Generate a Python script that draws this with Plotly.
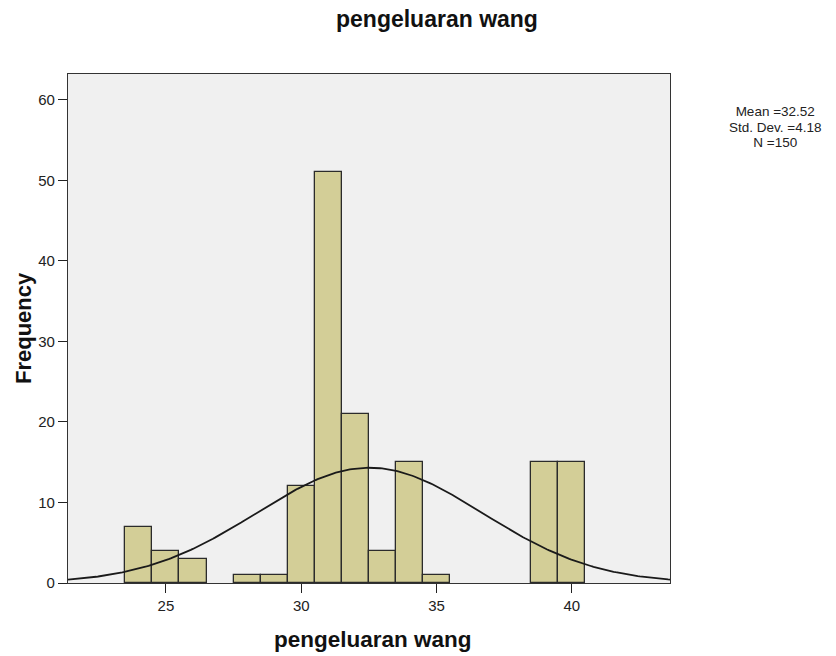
import numpy as np
import plotly.graph_objects as go

# Histogram data (bin centres, bin width 1)
bin_centers = [24, 25, 26, 28, 29, 30, 31, 32, 33, 34, 35, 39, 40]
counts = [7, 4, 3, 1, 1, 12, 51, 21, 4, 15, 1, 15, 15]
mean_val = 32.52
std_val = 4.18
n_val = 150
bin_width = 1.0
x_ticks = [25, 30, 35, 40]
y_ticks = [0, 10, 20, 30, 40, 50, 60]
stats_lines = ["Mean =32.52", "Std. Dev. =4.18", "N =150"]

FONT = "Arial, Liberation Sans, sans-serif"
X_RANGE = [21.38, 43.63]
Y_RANGE = [0, 63.22]

# plot area in page pixels
PL, PT, PR, PB = 68, 74, 670, 583
PW, PH = PR - PL, PB - PT

def px(x):
    return (x - PL) / PW

def py(y):
    return (PB - y) / PH

# fitted normal curve
xc = np.linspace(X_RANGE[0], X_RANGE[1], 300)
yc = n_val * bin_width / (std_val * np.sqrt(2 * np.pi)) * np.exp(-0.5 * ((xc - mean_val) / std_val) ** 2)

fig = go.Figure()
fig.add_trace(go.Bar(
    x=bin_centers, y=counts, width=bin_width,
    marker=dict(color="#D3CE97", line=dict(color="#2b2b2b", width=1.3)),
    hoverinfo="x+y",
))
fig.add_trace(go.Scatter(
    x=xc, y=yc, mode="lines",
    line=dict(color="#1a1a1a", width=1.8), hoverinfo="skip",
))

stats_text = "<br>".join(
    '<span style="font-size:13.5px">%s</span>' % s for s in stats_lines
)

annotations = [
    dict(text="<b>pengeluaran wang</b>", x=px(437), y=py(19),
         font=dict(family=FONT, size=23, color="#111")),
    dict(text="<b>pengeluaran wang</b>", x=px(373), y=py(639),
         font=dict(family=FONT, size=22.5, color="#111")),
    dict(text="<b>Frequency</b>", x=px(23), y=py(328), textangle=-90,
         font=dict(family=FONT, size=22, color="#111")),
    dict(text=stats_text, x=px(775), y=py(127), align="center",
         font=dict(family=FONT, size=12, color="#222")),
]
for a in annotations:
    a.update(xref="paper", yref="paper", showarrow=False,
             xanchor="center", yanchor="middle")

fig.update_layout(
    width=836, height=656,
    margin=dict(l=PL, r=836 - PR, t=PT, b=656 - PB),
    paper_bgcolor="white", plot_bgcolor="#F0F0F0",
    showlegend=False, bargap=0,
    font=dict(family=FONT, size=15, color="#222"),
    annotations=annotations,
)
fig.update_xaxes(
    range=X_RANGE, tickvals=x_ticks, ticks="outside", ticklen=9,
    tickcolor="#222", showgrid=False, zeroline=False,
    showline=True, linecolor="#333", linewidth=1.3, mirror=True,
    tickfont=dict(size=15, color="#222"),
)
fig.update_yaxes(
    range=Y_RANGE, tickvals=y_ticks, ticks="outside", ticklen=9,
    tickcolor="#222", showgrid=False, zeroline=False,
    showline=True, linecolor="#333", linewidth=1.3, mirror=True,
    tickfont=dict(size=15, color="#222"),
)

fig.write_html("out.html", config={"displayModeBar": False},
               post_script="document.body.style.margin='0';")
